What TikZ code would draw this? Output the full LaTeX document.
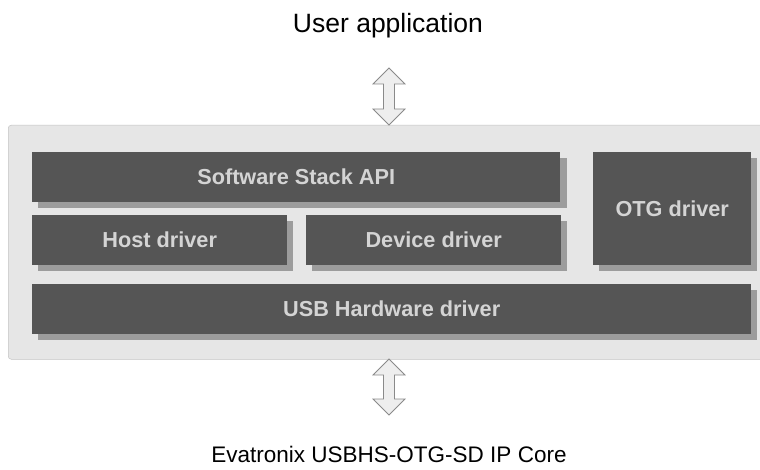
\documentclass[tikz,border=0pt]{standalone}
\usepackage{fontspec}
\setmainfont{Liberation Sans}
\begin{document}
\begin{tikzpicture}[x=1pt,y=-1pt,
  blk/.style={draw=none,fill=boxgray,text=txtgray,font=\bfseries\fontsize{21.7}{24}\selectfont,
    inner sep=0pt,anchor=north west},
  shad/.style={fill=shadgray,draw=none},
  dbl/.style={fill=arrfill,draw=arrline,line width=0.8pt,line join=miter}]
\definecolor{boxgray}{HTML}{555555}
\definecolor{txtgray}{HTML}{D4D4D4}
\definecolor{shadgray}{HTML}{9C9C9C}
\definecolor{panel}{HTML}{E6E6E6}
\definecolor{arrfill}{HTML}{EEEEEE}
\definecolor{arrline}{HTML}{8A8A8A}
\useasboundingbox (0,0) rectangle (760,470);
% panel
\node[draw=panel!85!black,line width=0.5pt,fill=panel,rounded corners=3pt,anchor=north west,
  minimum width=760pt,minimum height=234pt,inner sep=0pt] (panel) at (8,125) {};
% shadows
\fill[shad] (38,158) rectangle (567,208);
\fill[shad] (38,221) rectangle (293,271);
\fill[shad] (312,221) rectangle (567,271);
\fill[shad] (599,158) rectangle (757,271);
\fill[shad] (38,290) rectangle (757,340);
% boxes
\node[blk,minimum width=528pt,minimum height=50pt] (api) at (32,152) {Software Stack API};
\node[blk,minimum width=255pt,minimum height=50pt] (host) at (32,215) {Host driver};
\node[blk,minimum width=255pt,minimum height=50pt] (dev) at (306,215) {Device driver};
\node[blk,minimum width=158pt,minimum height=113pt] (otg) at (593,152) {OTG driver};
\node[blk,minimum width=719pt,minimum height=50pt] (usb) at (32,284) {USB Hardware driver};
% titles
\node[font=\fontsize{26.5}{30}\selectfont,anchor=base,inner sep=0pt] (user) at (388,33) {User application};
\node[font=\fontsize{22.5}{26}\selectfont,anchor=base,inner sep=0pt] (core) at (389,462) {Evatronix USBHS-OTG-SD IP Core};
% arrows
\coordinate (a1) at (389,68);
\coordinate (a2) at (389,125);
\coordinate (b1) at (389,359);
\coordinate (b2) at (389,415);
\draw[dbl] (a1) -- ++(16,16) -- ++(-10.5,0) -- ++(0,25) -- ++(10.5,0) -- (a2)
  -- ++(-16,-16) -- ++(10.5,0) -- ++(0,-25) -- ++(-10.5,0) -- cycle;
\draw[dbl] (b1) -- ++(16,16) -- ++(-10.5,0) -- ++(0,24) -- ++(10.5,0) -- (b2)
  -- ++(-16,-16) -- ++(10.5,0) -- ++(0,-24) -- ++(-10.5,0) -- cycle;
\end{tikzpicture}
\end{document}
